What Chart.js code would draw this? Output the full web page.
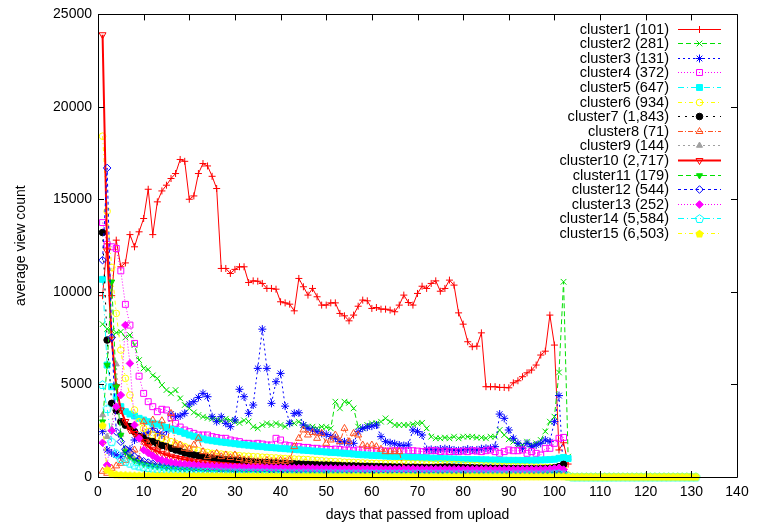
<!DOCTYPE html>
<html>
<head>
<meta charset="utf-8">
<script src="https://cdn.jsdelivr.net/npm/chart.js@4.4.1/dist/chart.umd.min.js"></script>
<style>
  html, body { margin: 0; padding: 0; background: #fff; }
  #wrap { width: 757px; height: 528px; }
</style>
</head>
<body>
<div id="wrap"><canvas id="viewChart" width="757" height="528"></canvas></div>
<script>
/* ============================================================
   DATOS: promedio de vistas por día desde la subida (día 1 = primer punto)
============================================================ */

const names = [
    "cluster1 (101)", "cluster2 (281)", "cluster3 (131)", "cluster4 (372)", "cluster5 (647)",
    "cluster6 (934)", "cluster7 (1,843)", "cluster8 (71)", "cluster9 (144)", "cluster10 (2,717)",
    "cluster11 (179)", "cluster12 (544)", "cluster13 (252)", "cluster14 (5,584)", "cluster15 (6,503)"
];
const firstDay = 1;

const cluster1 = [9800, 12600, 9800, 12800, 11360, 11570, 13100, 12440, 13250, 13970,
    15550, 13100, 14870, 15460, 15770, 16130, 16400, 17160, 17060, 15010,
    15190, 16400, 16940, 16810, 16250, 15590, 11270, 11270, 11000, 11220,
    11360, 11360, 10510, 10600, 10580, 10460, 10190, 10190, 10150, 9470,
    9410, 9340, 8980, 10730, 10280, 9830, 10190, 9740, 9290, 9290,
    9410, 9410, 8840, 8710, 8440, 8750, 9230, 9560, 9520, 9110,
    9160, 9070, 9070, 9020, 8930, 9290, 9830, 9430, 9290, 9920,
    10310, 10190, 10460, 10600, 10040, 10190, 10640, 10370, 8870, 8260,
    7310, 7040, 7070, 7790, 4880, 4880, 4880, 4840, 4840, 4820,
    5090, 5200, 5420, 5630, 5780, 6050, 6590, 6800, 8750, 7130,
    1460, 1850, 700];

const cluster2 = [8260, 8000, 7900, 7800, 7850, 7540, 7670, 7130, 6320, 5870,
    5810, 5490, 5330, 4970, 4700, 4520, 4700, 4250, 3890, 3710,
    3490, 3350, 3260, 3190, 3150, 3100, 3020, 3150, 3060, 2980,
    2920, 3060, 3000, 2720, 2630, 2810, 2900, 2810, 2900, 2810,
    2720, 2900, 2900, 2990, 2810, 2720, 2720, 2630, 2720, 2700,
    2630, 4070, 3710, 4070, 4010, 3710, 2720, 2630, 2810, 2900,
    2900, 2990, 3170, 2990, 2810, 2810, 2810, 2810, 2850, 2900,
    2930, 2630, 2180, 2090, 2090, 2130, 2090, 2180, 2090, 2180,
    2180, 2180, 2130, 2130, 2090, 2180, 2180, 2540, 2270, 2040,
    1910, 1730, 1730, 1910, 1730, 1820, 2000, 2460, 2990, 3260,
    5650, 10550, 1100];

const cluster3 = [2450, 1460, 1300, 1200, 1100, 1300, 1500, 2000, 2100, 2300,
    2400, 2630, 2400, 2270, 2500, 3400, 3260, 3300, 3440, 3940,
    4070, 4300, 4520, 4340, 3260, 2990, 3260, 2900, 2720, 3080,
    4740, 4340, 3440, 3890, 5870, 7990, 5870, 3980, 5150, 5600,
    3830, 2900, 3440, 3470, 2810, 2630, 2540, 2450, 2360, 2300,
    2200, 2100, 1910, 1900, 1820, 1820, 2450, 2630, 2700, 2750,
    2810, 2180, 1910, 1850, 1800, 1730, 1700, 1730, 2540, 2450,
    2270, 1490, 1490, 1460, 1510, 1530, 1510, 1460, 1430, 1460,
    1510, 1460, 1460, 1530, 1550, 1550, 1640, 3400, 3170, 2540,
    2090, 1820, 1550, 1820, 1640, 1730, 1820, 2000, 1910, 2990,
    4400, 100];

const cluster4 = [13750, 12570, 12440, 12350, 11140, 9330, 8210, 7220, 5450, 4520,
    4070, 3800, 3530, 3660, 3620, 3200, 2900, 2700, 2540, 2450,
    2360, 2270, 2270, 2270, 2180, 2130, 2090, 2090, 2000, 1950,
    1910, 1820, 1820, 1780, 1820, 1780, 1730, 1730, 2090, 2000,
    1730, 1690, 1640, 1640, 1600, 1600, 1550, 1550, 1510, 1490,
    1490, 1510, 1490, 1460, 1460, 1420, 1460, 1460, 1420, 1420,
    1400, 1420, 1400, 1400, 1420, 1420, 1400, 1420, 1420, 1400,
    1370, 1400, 1420, 1420, 1370, 1400, 1370, 1370, 1370, 1400,
    1370, 1420, 1400, 1370, 1420, 1460, 1370, 1280, 1370, 1460,
    1420, 1420, 1460, 1280, 1370, 1280, 1190, 1550, 1550, 1820,
    2090, 2140];

const cluster5 = [10680, 6050, 4880, 4340, 3800, 3530, 3400, 3300, 3170, 3080,
    2990, 2900, 2860, 2770, 2680, 2600, 2520, 2450, 2360, 2270,
    2200, 2120, 2060, 2000, 1960, 1930, 1890, 1860, 1830, 1800,
    1770, 1740, 1720, 1690, 1660, 1640, 1610, 1590, 1570, 1550,
    1530, 1510, 1490, 1470, 1450, 1430, 1410, 1390, 1370, 1350,
    1330, 1320, 1300, 1280, 1260, 1240, 1220, 1200, 1190, 1170,
    1160, 1150, 1130, 1120, 1110, 1100, 1080, 1070, 1060, 1050,
    1040, 1030, 1020, 1010, 1000, 990, 980, 970, 960, 950,
    950, 940, 940, 930, 930, 920, 920, 910, 910, 900,
    900, 900, 890, 900, 910, 910, 920, 930, 940, 960,
    1010, 1050, 1000];

const cluster6 = [18420, 14360, 11330, 8840, 6860, 5330, 4430, 3620, 2990, 2630,
    2450, 2270, 2180, 2090, 2000, 1910, 1820, 1730, 1640, 1550,
    1460, 1420, 1370, 1330, 1280, 1260, 1240, 1210, 1190, 1170,
    1150, 1130, 1120, 1100, 1090, 1070, 1060, 1040, 1030, 1010,
    1000, 990, 970, 960, 950, 940, 920, 900, 880, 860,
    840, 830, 820, 800, 790, 780, 770, 760, 750, 740,
    740, 730, 730, 720, 720, 730, 740, 720, 710, 710,
    700, 700, 690, 700, 710, 700, 690, 680, 670, 650,
    640, 630, 620, 610, 600, 600, 590, 580, 570, 560,
    560, 550, 550, 540, 540, 530, 530, 520, 520, 510,
    500, 470, 100, 30, 30, 30, 30, 30, 30, 30,
    30, 30, 30, 30, 30, 30, 30, 30, 30, 30,
    30, 30, 30, 30, 30, 30, 30, 30, 30, 30,
    30];

const cluster7 = [13210, 7400, 3980, 3600, 2990, 2800, 2720, 2450, 2200, 2090,
    1950, 1910, 1800, 1700, 1640, 1550, 1460, 1400, 1300, 1240,
    1190, 1150, 1100, 1060, 1020, 990, 960, 940, 920, 900,
    880, 860, 840, 820, 800, 790, 780, 770, 760, 740,
    730, 720, 710, 700, 690, 680, 670, 660, 650, 650,
    640, 630, 620, 610, 600, 600, 590, 580, 580, 570,
    560, 560, 550, 550, 540, 540, 530, 530, 530, 520,
    520, 510, 510, 520, 530, 540, 540, 530, 520, 510,
    500, 500, 490, 490, 480, 480, 470, 470, 470, 460,
    460, 460, 450, 450, 450, 440, 450, 460, 470, 500,
    560, 680];

const cluster8 = [310, 200, 470, 600, 740, 900, 1100, 1460, 960, 2990,
    1820, 3080, 1460, 3040, 1370, 3440, 1730, 1730, 1550, 1500,
    1730, 2090, 1370, 1100, 1190, 1280, 1100, 1190, 1050, 1190,
    1000, 920, 900, 830, 830, 800, 900, 830, 830, 900,
    830, 920, 1640, 2090, 2540, 2270, 2400, 2090, 2360, 1820,
    2000, 2270, 1910, 2630, 1910, 2360, 2270, 1730, 1640, 1730,
    1640, 1500, 1370, 1370, 1370, 1370, 400, 350];

const cluster9 = [3350, 2180, 2600, 6100, 2300, 1500, 1150, 950, 820, 740,
    690, 650, 610, 580, 560, 540, 520, 500, 490, 470,
    460, 450, 440, 430, 420, 410, 400, 400, 390, 380,
    380, 370, 360, 360, 350, 350, 340, 340, 330, 330,
    320, 320, 320, 310, 310, 300, 300, 300, 290, 290,
    290, 280, 280, 280, 280, 270, 270, 270, 270, 260,
    260, 260, 260, 250, 250, 250, 250, 250, 240, 240,
    240, 240, 240, 240, 230, 230, 230, 230, 230, 230,
    220, 220, 220, 220, 220, 220, 220, 210, 210, 210,
    210, 210, 210, 210, 200, 200, 200, 210, 220, 230,
    250, 200];

const cluster10 = [23900, 12220, 7450, 4880, 3620, 3000, 2540, 2350, 2180, 1910,
    1640, 1500, 1400, 1280, 1190, 1120, 1060, 1000, 950, 900,
    850, 820, 790, 760, 730, 700, 680, 660, 640, 620,
    600, 580, 570, 560, 550, 540, 530, 520, 510, 500,
    500, 490, 490, 480, 480, 470, 470, 460, 460, 450,
    450, 440, 440, 430, 430, 430, 420, 420, 420, 410,
    410, 410, 400, 400, 400, 390, 390, 390, 380, 380,
    380, 380, 370, 370, 370, 370, 360, 360, 360, 360,
    350, 350, 350, 350, 340, 340, 340, 340, 340, 330,
    330, 330, 330, 320, 320, 320, 320, 320, 330, 340,
    380, 300];

const cluster11 = [2990, 6050, 10550, 4880, 2270, 1370, 1100, 900, 800, 700,
    640, 600, 560, 530, 500, 480, 460, 440, 420, 410,
    400, 390, 380, 370, 360, 350, 350, 340, 330, 330,
    320, 320, 310, 310, 300, 300, 290, 290, 290, 280,
    280, 280, 270, 270, 270, 260, 260, 300, 260, 250,
    250, 250, 250, 240, 240, 240, 240, 240, 230, 230,
    230, 230, 230, 220, 220, 220, 220, 220, 220, 210,
    210, 210, 210, 210, 210, 200, 200, 200, 200, 200,
    200, 200, 190, 190, 190, 190, 190, 190, 190, 180,
    180, 180, 180, 180, 180, 180, 180, 190, 200, 210,
    230, 200];

const cluster12 = [11720, 16700, 7540, 2450, 1910, 1500, 1300, 1100, 950, 850,
    780, 720, 680, 640, 600, 570, 550, 530, 510, 490,
    470, 460, 450, 440, 430, 420, 410, 400, 400, 390,
    390, 380, 380, 370, 370, 360, 360, 360, 350, 350,
    350, 340, 340, 340, 340, 330, 330, 330, 330, 320,
    320, 320, 320, 320, 310, 310, 310, 310, 310, 300,
    300, 300, 300, 300, 300, 290, 290, 290, 290, 290,
    290, 290, 280, 280, 280, 280, 280, 280, 280, 280,
    270, 270, 270, 270, 270, 270, 270, 270, 260, 260,
    260, 260, 260, 260, 260, 260, 260, 270, 280, 290,
    320, 250];

const cluster13 = [1850, 650, 2500, 3800, 4430, 8210, 6140, 2810, 2090, 1460,
    1300, 1150, 1000, 920, 860, 800, 760, 720, 700, 680,
    660, 640, 620, 600, 590, 580, 570, 560, 550, 540,
    540, 530, 530, 520, 520, 510, 510, 500, 500, 500,
    490, 490, 490, 480, 480, 480, 480, 470, 470, 470,
    470, 460, 460, 460, 460, 460, 450, 450, 450, 450,
    450, 450, 440, 440, 440, 440, 440, 440, 440, 430,
    430, 430, 430, 430, 430, 430, 430, 420, 420, 420,
    420, 420, 420, 420, 420, 410, 410, 410, 410, 410,
    410, 410, 410, 410, 410, 410, 420, 430, 440, 460,
    500, 400];

const cluster14 = [5000, 3700, 1910, 1280, 1000, 850, 750, 650, 600, 550,
    510, 480, 450, 430, 410, 390, 370, 350, 340, 330,
    320, 310, 300, 300, 290, 280, 280, 270, 270, 260,
    260, 250, 250, 250, 240, 240, 240, 230, 230, 230,
    230, 220, 220, 220, 220, 220, 210, 210, 210, 210,
    210, 210, 200, 200, 200, 200, 200, 200, 200, 190,
    190, 190, 190, 190, 190, 190, 190, 180, 180, 180,
    180, 180, 180, 180, 180, 180, 170, 170, 170, 170,
    170, 170, 170, 170, 170, 170, 170, 160, 160, 160,
    160, 160, 160, 160, 160, 160, 160, 170, 170, 180,
    190, 150, 60, 10, 10, 10, 10, 10, 10, 10,
    10, 10, 10, 10, 10, 10, 10, 10, 10, 10,
    10, 10, 10, 10, 10, 10, 10, 10, 10, 10,
    10];

const cluster15 = [2800, 400, 200, 150, 130, 120, 110, 100, 100, 95,
    95, 90, 90, 90, 85, 85, 85, 80, 80, 80,
    80, 80, 75, 75, 75, 75, 75, 70, 70, 70,
    70, 70, 70, 70, 65, 65, 65, 65, 65, 65,
    65, 65, 60, 60, 60, 60, 60, 60, 60, 60,
    60, 60, 60, 55, 55, 55, 55, 55, 55, 55,
    55, 55, 55, 55, 55, 55, 55, 50, 50, 50,
    50, 50, 50, 50, 50, 50, 50, 50, 50, 50,
    50, 50, 50, 50, 50, 50, 50, 50, 50, 50,
    50, 50, 50, 50, 50, 50, 50, 50, 50, 55,
    60, 50, 30, 20, 20, 20, 20, 20, 20, 20,
    20, 20, 20, 20, 20, 20, 20, 20, 20, 20,
    20, 20, 20, 20, 20, 20, 20, 20, 20, 20,
    20];

const series = [cluster1, cluster2, cluster3, cluster4, cluster5, cluster6, cluster7, cluster8,
    cluster9, cluster10, cluster11, cluster12, cluster13, cluster14, cluster15];

/* ============================================================
   ESTILOS (estilo gnuplot)
============================================================ */

function pentagono(color, relleno) {
    const c = document.createElement("canvas");
    c.width = 11; c.height = 11;
    const g = c.getContext("2d");
    g.beginPath();
    for (let k = 0; k < 5; k++) {
        const a = -Math.PI / 2 + k * 2 * Math.PI / 5;
        g.lineTo(5.5 + 4.3 * Math.cos(a), 6 + 4.3 * Math.sin(a));
    }
    g.closePath();
    if (relleno) { g.fillStyle = color; g.fill(); }
    else { g.strokeStyle = color; g.lineWidth = 1; g.stroke(); }
    return c;
}

const NONE = "rgba(0,0,0,0)";
const estilos = [
    { color: "#ff0000", dash: [],            point: "cross",    r: 3.5, fill: false },
    { color: "#00e000", dash: [5, 3],        point: "crossRot", r: 4,   fill: false },
    { color: "#0000ff", dash: [2, 3],        point: "star",     r: 4,   fill: false },
    { color: "#ff00ff", dash: [1, 2],        point: "rect",     r: 4.2, fill: false },
    { color: "#00ffff", dash: [6, 3, 1, 3],  point: "rect",     r: 4.2, fill: true },
    { color: "#ffff00", dash: [4, 3, 1, 3],  point: "circle",   r: 3.3, fill: false },
    { color: "#000000", dash: [2, 5],        point: "circle",   r: 3.3, fill: true },
    { color: "#ff5020", dash: [5, 2, 1, 2],  point: "triangle", r: 4,   fill: false },
    { color: "#a0a0a0", dash: [2, 3],        point: "triangle", r: 3.5, fill: true },
    { color: "#ff0000", dash: [],            point: "triangle", r: 4,   fill: false, rot: 180, w: 2 },
    { color: "#00e000", dash: [5, 3],        point: "triangle", r: 3.5, fill: true,  rot: 180 },
    { color: "#0000ff", dash: [3, 3],        point: "rectRot",  r: 3.8, fill: false },
    { color: "#ff00ff", dash: [1, 2],        point: "rectRot",  r: 3.8, fill: true },
    { color: "#00ffff", dash: [6, 3, 1, 3],  point: pentagono("#00ffff", false), r: 4, fill: false },
    { color: "#ffff00", dash: [4, 3, 1, 3],  point: pentagono("#ffff00", true),  r: 4, fill: true }
];

const datasets = series.map((vals, k) => {
    const s = estilos[k];
    return {
        label: names[k],
        data: vals.map((v, i) => ({ x: firstDay + i, y: v })),
        borderColor: s.color,
        borderWidth: s.w || 1,
        borderDash: s.dash,
        pointStyle: s.point,
        pointRadius: s.r,
        pointRotation: s.rot || 0,
        pointBorderColor: s.color,
        pointBorderWidth: 1,
        pointBackgroundColor: s.fill ? s.color : NONE,
        order: 15 - k,
        clip: 8,
        tension: 0,
        fill: false
    };
});

/* ============================================================
   PLUGINS: marco con ticks hacia dentro + leyenda
============================================================ */

const marco = {
    id: "marco",
    afterDatasetsDraw(chart) {
        const { ctx, chartArea: a, scales: { x, y } } = chart;
        ctx.save();
        ctx.strokeStyle = "#000";
        ctx.lineWidth = 1;
        ctx.setLineDash([]);
        ctx.beginPath();
        ctx.rect(Math.round(a.left) + 0.5, Math.round(a.top) + 0.5,
                 Math.round(a.right - a.left), Math.round(a.bottom - a.top));
        x.ticks.forEach(t => {
            const px = Math.round(x.getPixelForValue(t.value)) + 0.5;
            ctx.moveTo(px, a.bottom); ctx.lineTo(px, a.bottom - 6);
            ctx.moveTo(px, a.top); ctx.lineTo(px, a.top + 6);
        });
        y.ticks.forEach(t => {
            const py = Math.round(y.getPixelForValue(t.value)) + 0.5;
            ctx.moveTo(a.left, py); ctx.lineTo(a.left + 6, py);
            ctx.moveTo(a.right, py); ctx.lineTo(a.right - 6, py);
        });
        ctx.stroke();
        ctx.restore();
    }
};

const leyenda = {
    id: "leyenda",
    afterDraw(chart) {
        const ctx = chart.ctx;
        ctx.save();
        ctx.font = "14.6px 'Liberation Sans', Arial, sans-serif";
        ctx.textAlign = "right";
        ctx.textBaseline = "middle";
        chart.data.datasets.forEach((ds, i) => {
            const y = Math.round(28.5 + i * 14.6) + 0.5;
            ctx.fillStyle = "#000";
            ctx.fillText(ds.label, 669, y);
            ctx.strokeStyle = ds.borderColor;
            ctx.lineWidth = ds.borderWidth;
            ctx.setLineDash(ds.borderDash);
            ctx.beginPath();
            ctx.moveTo(678, y);
            ctx.lineTo(721, y);
            ctx.stroke();
            ctx.setLineDash([]);
            ctx.fillStyle = ds.pointBackgroundColor;
            ctx.strokeStyle = ds.pointBorderColor;
            ctx.lineWidth = 1;
            Chart.helpers.drawPoint(ctx, {
                pointStyle: ds.pointStyle,
                radius: ds.pointRadius,
                rotation: ds.pointRotation,
                borderWidth: 1
            }, 699.5, y);
        });
        ctx.restore();
    }
};

/* ============================================================
   GRÁFICO
============================================================ */

Chart.defaults.color = "#000";
Chart.defaults.font.family = "'Liberation Sans', Arial, sans-serif";
Chart.defaults.font.size = 14;

new Chart(document.getElementById("viewChart"), {
    type: "line",
    data: { datasets },
    options: {
        responsive: false,
        animation: false,
        devicePixelRatio: 1,
        layout: { padding: { left: 0, top: 14, right: 20, bottom: 0 } },
        plugins: { legend: { display: false }, tooltip: { enabled: false } },
        scales: {
            x: {
                type: "linear",
                min: 0, max: 140,
                grid: { display: false, drawTicks: false },
                border: { display: false },
                ticks: { stepSize: 10, padding: 7, maxRotation: 0, callback: v => String(v) },
                title: { display: true, text: "days that passed from upload", padding: { top: 0, bottom: 4 } },
                afterFit(s) { s.height = 51; }
            },
            y: {
                min: 0, max: 25000,
                grid: { display: false, drawTicks: false },
                border: { display: false },
                ticks: { stepSize: 5000, padding: 6, callback: v => String(v) },
                title: { display: true, text: "average view count", padding: { top: 13, bottom: 0 } },
                afterFit(s) { s.width = 98; }
            }
        }
    },
    plugins: [marco, leyenda]
});
</script>
</body>
</html>
